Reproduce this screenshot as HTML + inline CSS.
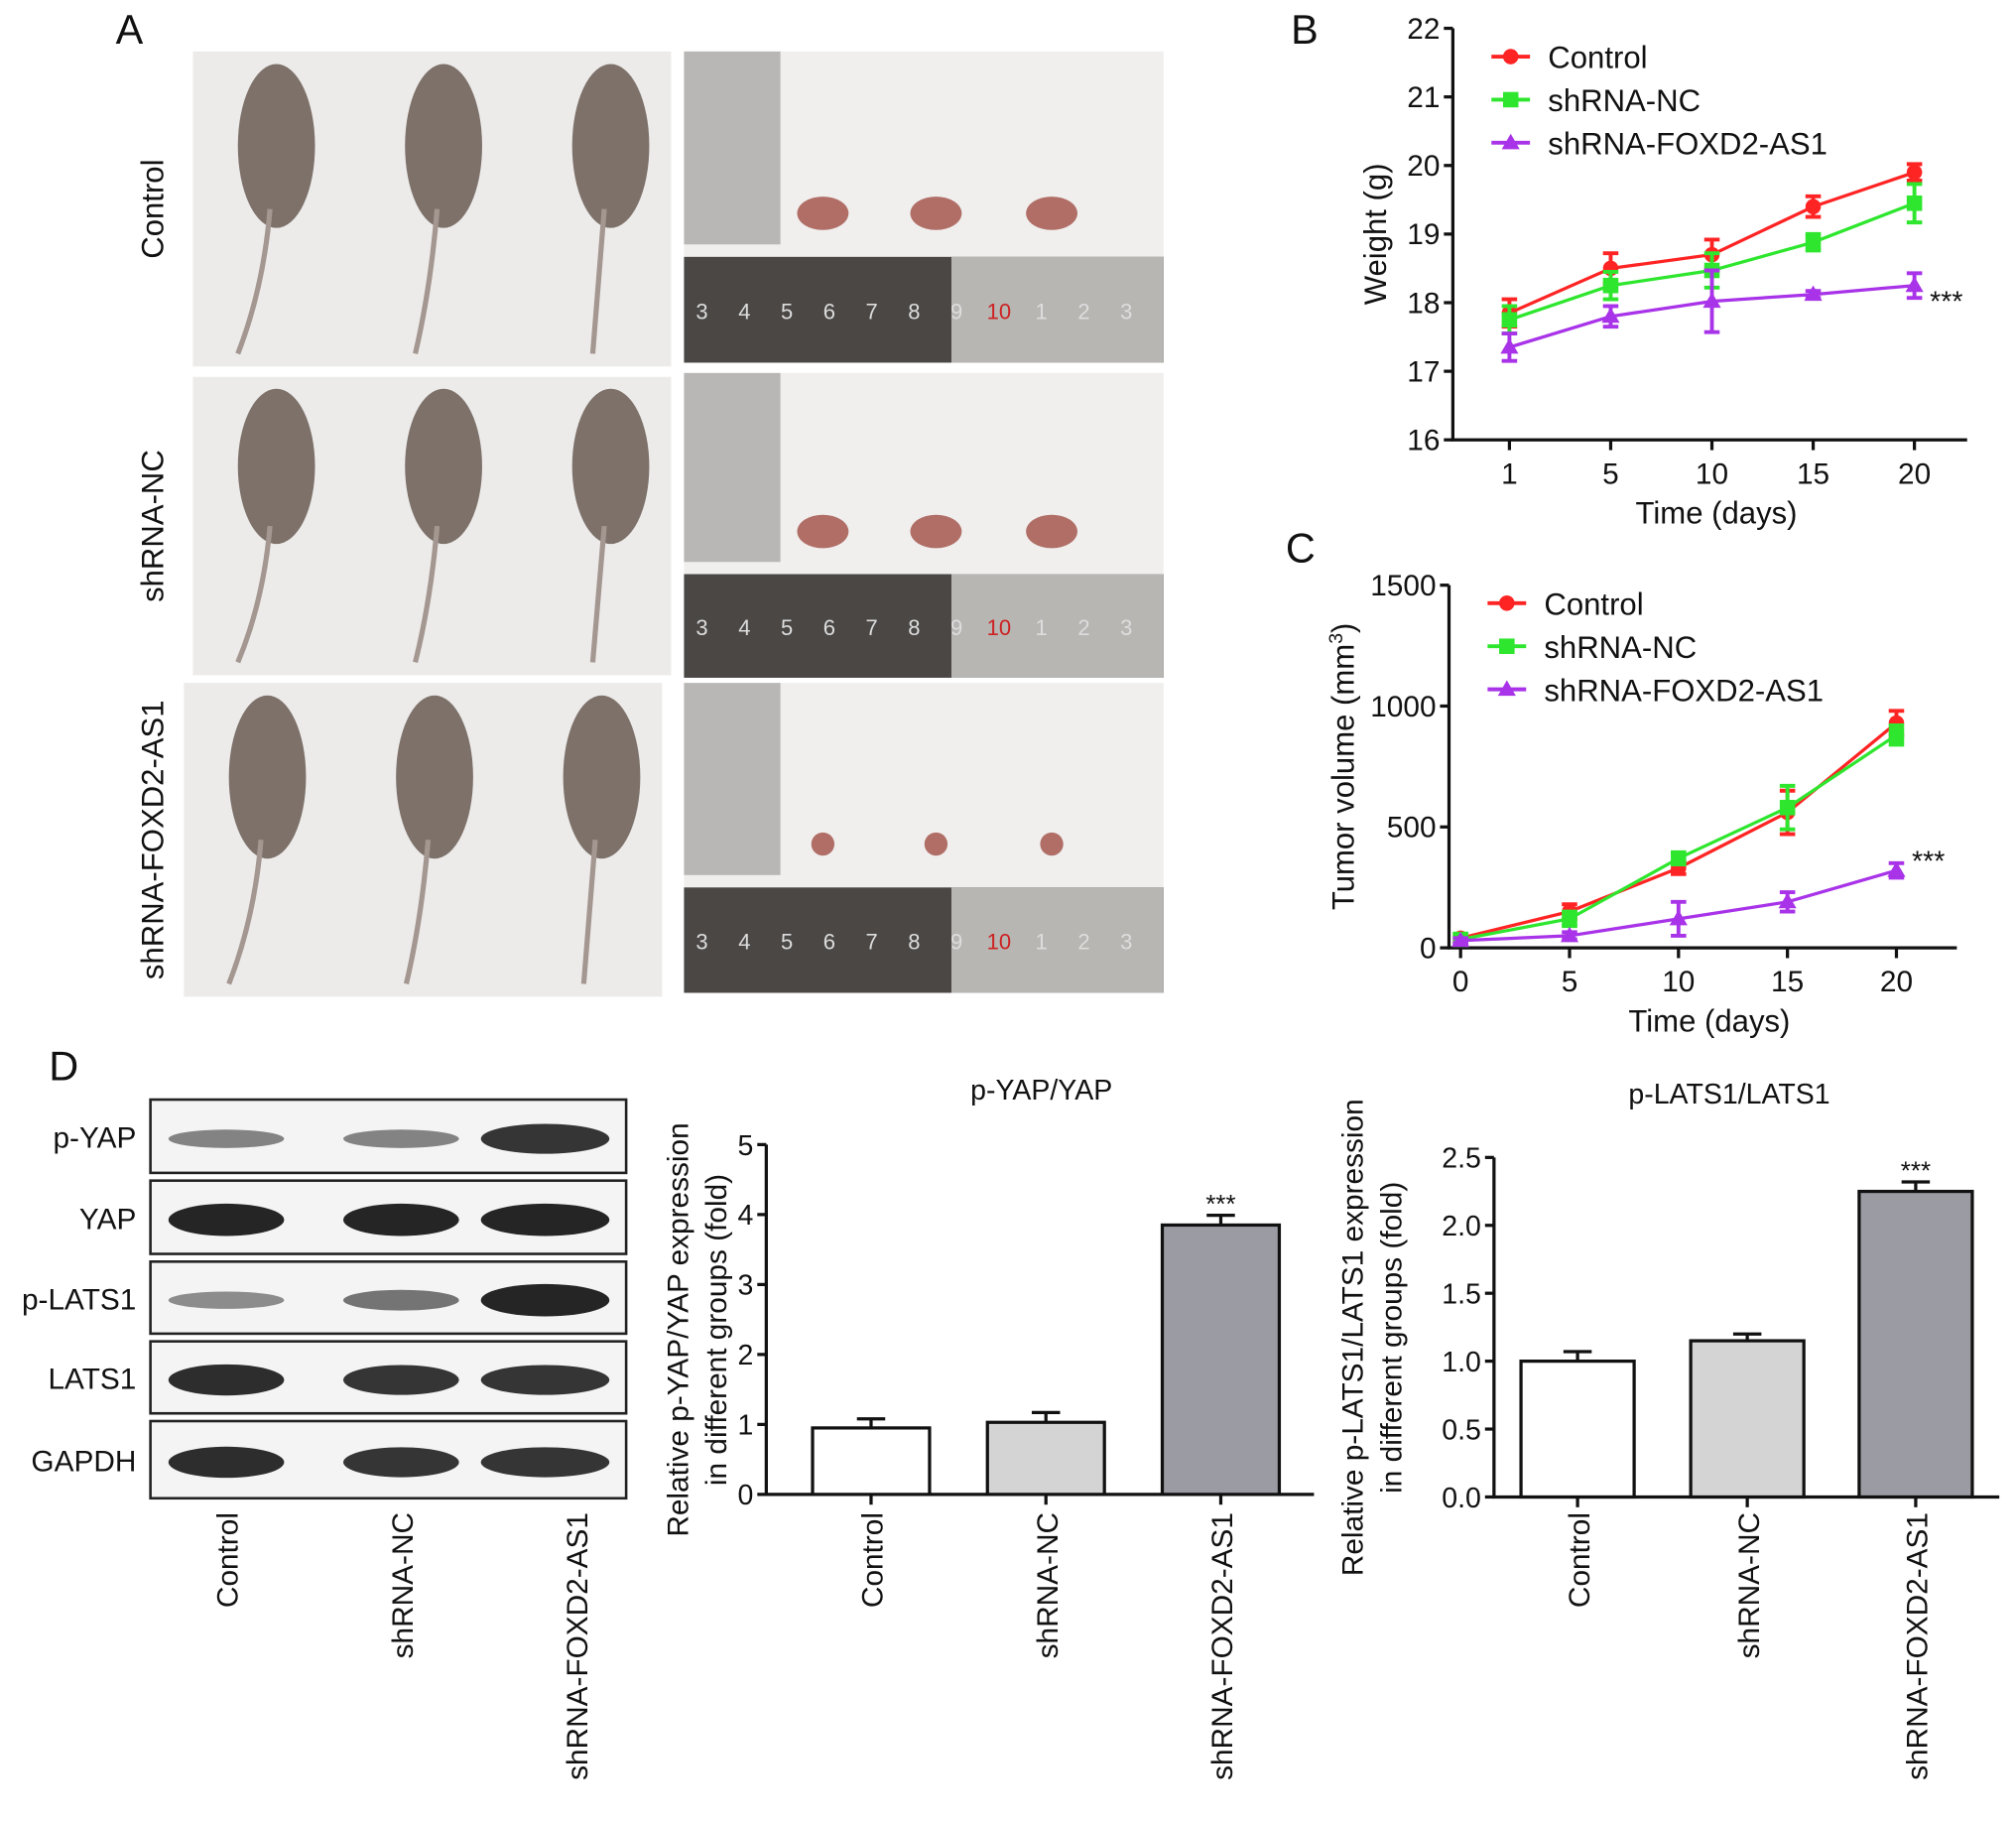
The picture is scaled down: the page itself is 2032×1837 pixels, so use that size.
<!DOCTYPE html>
<html><head><meta charset="utf-8"><style>
html,body{margin:0;padding:0;background:#fff;}
svg{display:block;font-family:"Liberation Sans",Arial,sans-serif;}
</style></head><body>
<svg id="fig" width="2032" height="1837" viewBox="0 0 1568 1417.5" xmlns="http://www.w3.org/2000/svg">
<g id="panelA"></g>
<g id="panelB"></g>
<g id="panelC"></g>
<g id="panelD"></g>
<g id="bar1"></g>
<g id="bar2"></g>
</svg>
<script>
// ---- Chart data ----
const groups = ["Control","shRNA-NC","shRNA-FOXD2-AS1"];
const seriesColors = ["#ff2424","#2ee62e","#a833e8"];
const weightDays = [1,5,10,15,20];
const weightControl = [17.85,18.5,18.7,19.4,19.9];
const weightNC = [17.75,18.25,18.47,18.88,19.45];
const weightSh = [17.35,17.8,18.02,18.12,18.25];
const weightErr = [[0.2,0.22,0.22,0.15,0.12],[0.2,0.2,0.25,0.12,0.28],[0.2,0.15,0.45,0.05,0.18]];
const weightTicks = [16,17,18,19,20,21,22];
const volDays = [0,5,10,15,20];
const volControl = [40,150,330,560,930];
const volNC = [35,120,370,580,880];
const volSh = [30,50,120,190,320];
const volErr = [[15,30,25,90,50],[15,30,25,90,40],[10,15,70,40,30]];
const volTicks = [0,500,1000,1500];
const yapValues = [0.95,1.03,3.85];
const yapErr = [0.13,0.14,0.14];
const yapTicks = [0,1,2,3,4,5];
const latsValues = [1.0,1.15,2.25];
const latsErr = [0.07,0.05,0.07];
const latsTicks = ["0.0","0.5","1.0","1.5","2.0","2.5"];
const barFills = ["#ffffff","#d4d4d4","#9b9ba3"];

const NS="http://www.w3.org/2000/svg";
function mk(parent,tag,attrs,txt){const e=document.createElementNS(NS,tag);for(const k in attrs)e.setAttribute(k,attrs[k]);if(txt!=null)e.textContent=txt;parent.appendChild(e);return e;}

// ---- Panel letters ----
const fig=document.getElementById('fig');
[["A",90,34],["B",1004,34],["C",1000,437],["D",38,840]].forEach(([l,x,y])=>{
  const t=mk(fig,'text',{x:x,y:y,'font-size':32,fill:'#111'},l);
  
  
});

// ---- Panel A photos ----
const A=document.getElementById('panelA');
const rows=[[40,285,150],[293,525,150],[531,775,143]];
rows.forEach((r,i)=>{
  const [y0,y1,x0]=r;
  const g=mk(A,'g',{});
  
  
  mk(g,'rect',{x:x0,y:y0,width:372,height:y1-y0,fill:'#ecebea'});
  [0,1,2].forEach(j=>{
    const cx=x0+65+j*130, h=y1-y0;
    mk(g,'ellipse',{cx:cx,cy:y0+h*0.3,rx:30,ry:h*0.26,fill:'#7d716a'});
    mk(g,'path',{d:`M${cx-5} ${y0+h*0.5} Q${cx-10} ${y0+h*0.75} ${cx-30+j*8} ${y1-10}`,stroke:'#a49690','stroke-width':4,fill:'none'});
  });
  const lab=mk(A,'text',{x:0,y:0,'font-size':24,fill:'#111','text-anchor':'middle',transform:`translate(127,${(y0+y1)/2}) rotate(-90)`},groups[i]);
  
  
  const t=mk(A,'g',{});
  
  
  const ty0=[40,290,531][i], ty1=[282,527,772][i];
  mk(t,'rect',{x:532,y:ty0,width:373,height:ty1-ty0,fill:'#f0efee'});
  mk(t,'rect',{x:532,y:ty0,width:75,height:(ty1-ty0)*0.62,fill:'#b9b7b5'});
  mk(t,'rect',{x:532,y:ty0+(ty1-ty0)*0.66,width:373,height:(ty1-ty0)*0.34,fill:'#4a4745'});
  mk(t,'rect',{x:740,y:ty0+(ty1-ty0)*0.66,width:165,height:(ty1-ty0)*0.34,fill:'#b8b6b3'});
  ["3","4","5","6","7","8","9","10","1","2","3"].forEach((n,k)=>{
    mk(t,'text',{x:546+k*33,y:ty0+(ty1-ty0)*0.86,'font-size':17,fill:n==="10"?'#c22':'#ddd','text-anchor':'middle'},n);
  });
  [640,728,818].forEach(cx=>mk(t,'ellipse',{cx:cx,cy:ty0+(ty1-ty0)*0.52,rx:i==2?9:20,ry:i==2?9:13,fill:'#b06e66'}));
});

// ---- Line charts ----
function lineChart(gid,cfg){
  const g=document.getElementById(gid);
  const {x0,x1,yTop,yBot,vmin,vmax,xPos,ticks,series,errs,legendY,xLabel,yLabel,yLabX,starY,xTicks}=cfg;
  const Y=v=>yBot-(v-vmin)/(vmax-vmin)*(yBot-yTop);
  const ax=mk(g,'path',{d:`M${x0} ${yTop} V${yBot} H${x1}`,stroke:'#111','stroke-width':2.5,fill:'none'});
  
  
  ticks.forEach(t=>{
    mk(g,'line',{x1:x0-7,x2:x0,y1:Y(t),y2:Y(t),stroke:'#111','stroke-width':2.5});
    const tl=mk(g,'text',{x:x0-10,y:Y(t)+8,'font-size':23,'text-anchor':'end',fill:'#111'},t);
    
    
  });
  xTicks.forEach((d,i)=>{
    const x=xPos(d,i);
    mk(g,'line',{x1:x,x2:x,y1:yBot,y2:yBot+8,stroke:'#111','stroke-width':2.5});
    const tl=mk(g,'text',{x:x,y:yBot+34,'font-size':23,'text-anchor':'middle',fill:'#111'},d);
    
    
  });
  const xl=mk(g,'text',{x:(x0+x1)/2+5,y:yBot+65,'font-size':24,'text-anchor':'middle',fill:'#111'},xLabel);
  
  
  const yl=mk(g,'text',{x:0,y:0,'font-size':24,'text-anchor':'middle',fill:'#111',transform:`translate(${yLabX},${(yTop+yBot)/2}) rotate(-90)`});
  yLabel.forEach(p=>{const s=mk(yl,'tspan',p.sup?{'font-size':15,dy:-9}:(p.after?{dy:9}:{}),p.t);});
  
  
  series.forEach((s,si)=>{
    const c=seriesColors[si];
    const sg=mk(g,'g',{});
    
    
    const pts=s.map((v,i)=>[xPos(xTicks[i],i),Y(v)]);
    mk(sg,'polyline',{points:pts.map(p=>p.join(',')).join(' '),fill:'none',stroke:c,'stroke-width':2.5});
    pts.forEach(([x,y],i)=>{
      const e=errs[si][i];
      mk(sg,'path',{d:`M${x} ${Y(s[i]+e)} V${Y(s[i]-e)} M${x-6} ${Y(s[i]+e)} h12 M${x-6} ${Y(s[i]-e)} h12`,stroke:c,'stroke-width':3,fill:'none'});
      let m;
      if(si==0) m=mk(sg,'circle',{cx:x,cy:y,r:6,fill:c});
      else if(si==1) m=mk(sg,'rect',{x:x-6,y:y-6,width:12,height:12,fill:c});
      else m=mk(sg,'path',{d:`M${x} ${y-7} L${x+7} ${y+5} L${x-7} ${y+5}Z`,fill:c});
      
      
    });
    const ly=legendY+si*33.5, lx=x0+30;
    const lg=mk(g,'g',{});
    
    
    mk(lg,'line',{x1:lx,x2:lx+30,y1:ly,y2:ly,stroke:c,'stroke-width':3});
    if(si==0) mk(lg,'circle',{cx:lx+15,cy:ly,r:6,fill:c});
    else if(si==1) mk(lg,'rect',{x:lx+9,y:ly-6,width:12,height:12,fill:c});
    else mk(lg,'path',{d:`M${lx+15} ${ly-7} L${lx+22} ${ly+5} L${lx+8} ${ly+5}Z`,fill:c});
    mk(lg,'text',{x:lx+44,y:ly+9,'font-size':24,fill:'#111'},groups[si]);
  });
  const st=mk(g,'text',{x:xPos(xTicks[4],4)+12,y:starY,'font-size':22,fill:'#111'},'***');
  
  
}
lineChart('panelB',{x0:1130,x1:1530,yTop:22,yBot:342,vmin:16,vmax:22,
  xPos:(d,i)=>[1174,1254,1333,1411,1489][0]+i*78.75,ticks:weightTicks,xTicks:weightDays,
  series:[weightControl,weightNC,weightSh],errs:weightErr,legendY:44,xLabel:'Time (days)',
  yLabel:[{t:'Weight (g)'}],yLabX:1078,starY:242});
lineChart('panelC',{x0:1127,x1:1522,yTop:455,yBot:737,vmin:0,vmax:1500,
  xPos:(d,i)=>1136+d*16.95,ticks:volTicks,xTicks:volDays,
  series:[volControl,volNC,volSh],errs:volErr,legendY:469,xLabel:'Time (days)',
  yLabel:[{t:'Tumor volume (mm'},{t:'3',sup:true},{t:')',after:true}],yLabX:1053,starY:677});

// ---- Panel D blot ----
const D=document.getElementById('panelD');
const blotRows=[["p-YAP",855,912,[0.35,0.35,0.85]],["YAP",918,975,[0.95,0.95,0.95]],["p-LATS1",981,1037,[0.3,0.45,0.95]],["LATS1",1043,1099,[0.9,0.85,0.85]],["GAPDH",1105,1165,[0.9,0.85,0.85]]];
blotRows.forEach(([name,y0,y1,ints])=>{
  const bg=mk(D,'g',{});
  
  
  mk(bg,'rect',{x:117,y:y0,width:370,height:y1-y0,fill:'#f4f4f4',stroke:'#222','stroke-width':2});
  [176,312,424].forEach((cx,k)=>mk(bg,'ellipse',{cx:cx,cy:(y0+y1)/2+2,rx:k==2?50:45,ry:4+ints[k]*9,fill:'#111','fill-opacity':0.25+ints[k]*0.7}));
  mk(bg,'text',{x:106,y:(y0+y1)/2+9,'font-size':23,'text-anchor':'end',fill:'#111'},name);
});
groups.forEach((gname,i)=>{
  const t=mk(D,'text',{x:0,y:0,'font-size':23,'text-anchor':'end',fill:'#111',transform:`translate(${[185,321,457][i]},1176) rotate(-90)`},gname);
  
  
});

// ---- Bar charts ----
function barChart(gid,cfg){
  const g=document.getElementById(gid);
  const {x0,x1,yTop,yBot,vmax,ticks,vals,errs,bx,bw,title,titleX,titleY,ylines,ylX}=cfg;
  const Y=v=>yBot-v/vmax*(yBot-yTop);
  const ax=mk(g,'path',{d:`M${x0} ${yTop} V${yBot} H${x1}`,stroke:'#111','stroke-width':2.5,fill:'none'});
  
  
  ticks.forEach(t=>{
    const v=parseFloat(t);
    mk(g,'line',{x1:x0-7,x2:x0,y1:Y(v),y2:Y(v),stroke:'#111','stroke-width':2.5});
    const tl=mk(g,'text',{x:x0-10,y:Y(v)+8,'font-size':22,'text-anchor':'end',fill:'#111'},t);
    
    
  });
  vals.forEach((v,i)=>{
    const x=bx[i], cx=x+bw/2;
    const e=errs[i];
    mk(g,'path',{d:`M${cx} ${Y(v)} V${Y(v+e)} M${cx-11} ${Y(v+e)} h22`,stroke:'#111','stroke-width':2.5,fill:'none'});
    const b=mk(g,'rect',{x:x,y:Y(v),width:bw,height:yBot-Y(v),fill:barFills[i],stroke:'#111','stroke-width':2.5});
    
    
    mk(g,'line',{x1:cx,x2:cx,y1:yBot,y2:yBot+8,stroke:'#111','stroke-width':2.5});
    const tl=mk(g,'text',{x:0,y:0,'font-size':23,'text-anchor':'end',fill:'#111',transform:`translate(${cx+9},1176) rotate(-90)`},groups[i]);
    
    
  });
  const st=mk(g,'text',{x:bx[2]+bw/2,y:Y(vals[2]+errs[2])-2,'font-size':20,'text-anchor':'middle',fill:'#111'},'***');
  
  
  const tt=mk(g,'text',{x:titleX,y:titleY,'font-size':22,'text-anchor':'middle',fill:'#111'},title);
  
  
  ylines.forEach((l,k)=>{
    const yl=mk(g,'text',{x:0,y:0,'font-size':23,'text-anchor':'middle',fill:'#111',transform:`translate(${ylX+k*30},${(yTop+yBot)/2+8}) rotate(-90)`},l);
    
    
  });
}
barChart('bar1',{x0:596,x1:1022,yTop:890,yBot:1162,vmax:5,ticks:yapTicks,vals:yapValues,errs:yapErr,
  bx:[632,768,904],bw:91,title:'p-YAP/YAP',titleX:810,titleY:855,
  ylines:['Relative p-YAP/YAP expression','in different groups (fold)'],ylX:535});
barChart('bar2',{x0:1162,x1:1555,yTop:900,yBot:1164,vmax:2.5,ticks:latsTicks,vals:latsValues,errs:latsErr,
  bx:[1183,1315,1446],bw:88,title:'p-LATS1/LATS1',titleX:1345,titleY:858,
  ylines:['Relative p-LATS1/LATS1 expression','in different groups (fold)'],ylX:1060});
</script>
</body></html>
